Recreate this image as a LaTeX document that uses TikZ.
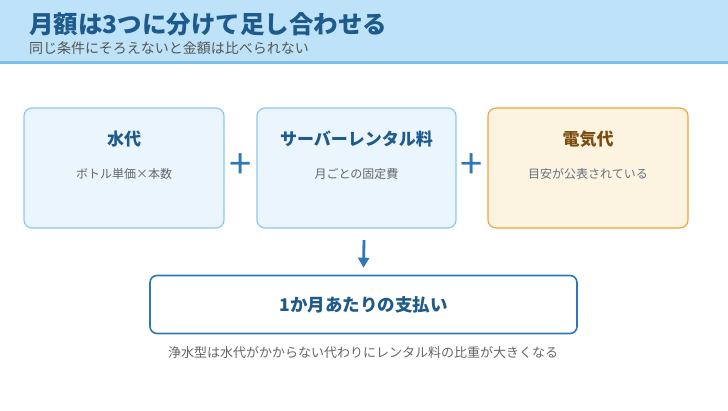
\documentclass[tikz,border=0pt]{standalone}
\usepackage{fontspec}
\setmainfont{Noto Sans CJK JP}
\usetikzlibrary{arrows.meta}
\definecolor{hdrbg}{HTML}{BEE3F8}
\definecolor{hdrline}{HTML}{7DBFEA}
\definecolor{ttl}{HTML}{1E5A8C}
\definecolor{sub}{HTML}{555555}
\definecolor{bluefill}{HTML}{EAF5FD}
\definecolor{blueedge}{HTML}{8CC8EE}
\definecolor{orfill}{HTML}{FDF3E1}
\definecolor{oredge}{HTML}{EFA43A}
\definecolor{brown}{HTML}{7A4E12}
\definecolor{accent}{HTML}{2E78B8}
\definecolor{gtext}{HTML}{666666}
\definecolor{bgtext}{HTML}{66717E}
\tikzset{
  card/.style={draw=blueedge, fill=bluefill, line width=1.2pt, rounded corners=8pt},
  ocard/.style={draw=oredge, fill=orfill, line width=1.2pt, rounded corners=8pt},
  cardtitle/.style={font=\fontsize{17}{19}\selectfont\bfseries, text=ttl},
  cardsub/.style={font=\fontsize{12}{14}\selectfont, text=gtext},
  plus/.style={font=\fontsize{40}{40}\selectfont, text=accent},
}
\begin{document}
\begin{tikzpicture}[x=1pt,y=-1pt]
\useasboundingbox (0,0) rectangle (728,410);
\fill[white] (0,0) rectangle (728,410);
\fill[hdrbg] (0,0) rectangle (728,61);
\fill[hdrline] (0,61) rectangle (728,64);
\node[anchor=west, inner sep=0, font=\fontsize{24.5}{27}\selectfont\bfseries, text=ttl] (title) at (29,24) {月額は3つに分けて足し合わせる};
\node[anchor=west, inner sep=0, font=\fontsize{14}{16}\selectfont, text=sub] (subtitle) at (29,48.5) {同じ条件にそろえないと金額は比べられない};

\path[card] (24,108) rectangle (224,228);
\path[card] (257,108) rectangle (456,228);
\path[ocard] (488,108) rectangle (688,228);

\node[cardtitle] (t1) at (124,139) {水代};
\node[cardsub] (s1) at (124,174) {ボトル単価×本数};
\node[cardtitle] (t2) at (356.5,139) {サーバーレンタル料};
\node[cardsub] (s2) at (356.5,174) {月ごとの固定費};
\node[cardtitle, text=brown] (t3) at (588,139) {電気代};
\node[cardsub, text=bgtext] (s3) at (588,174) {目安が公表されている};

\node[plus] (p1) at (240.5,166) {+};
\node[plus] (p2) at (472,166) {+};

\node[draw=accent, fill=white, line width=1.6pt, rounded corners=7pt, minimum width=427pt, minimum height=58pt, inner sep=0, font=\fontsize{17.5}{19}\selectfont\bfseries, text=ttl] (total) at (363.5,304.5) {1か月あたりの支払い};
\coordinate (astart) at (364,240);
\draw[accent, line width=2.8pt, -{Triangle[length=10pt,width=11pt]}] (astart) -- ([yshift=7pt]total.north);

\node[font=\fontsize{13}{15}\selectfont, text=gtext] (note) at (363,353) {浄水型は水代がかからない代わりにレンタル料の比重が大きくなる};
\end{tikzpicture}
\end{document}
